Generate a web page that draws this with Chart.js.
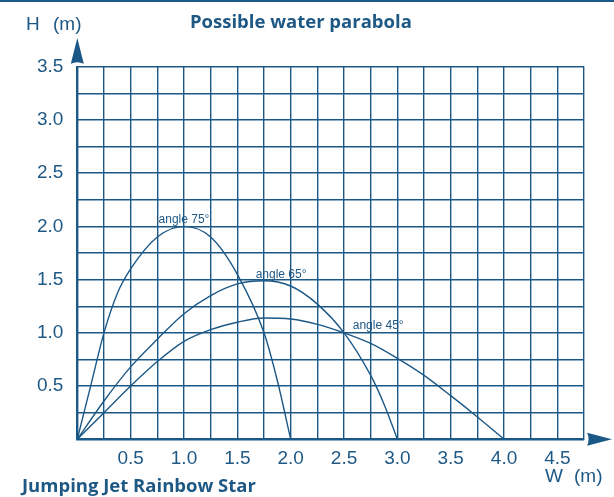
<!DOCTYPE html>
<html>
<head>
<meta charset="utf-8">
<script src="https://cdn.jsdelivr.net/npm/chart.js@4/dist/chart.umd.min.js"></script>
<style>
  html, body { margin: 0; padding: 0; background: #fff; }
  #wrap { width: 614px; height: 497px; position: relative; }
</style>
</head>
<body>
<div id="wrap"><canvas id="c" width="614" height="497"></canvas></div>
<script>
// curves (W in m, H in m)
var w75 = [0, 0.125, 0.25, 0.375, 0.5, 0.75, 1.0, 1.25, 1.5, 1.75, 1.875, 2.0];
var h75 = [0, 0.5, 1.0, 1.37, 1.6, 1.9, 2.0, 1.9, 1.55, 1.0, 0.55, 0];
var w65 = [0, 0.25, 0.5, 0.75, 1.0, 1.25, 1.5, 1.75, 2.0, 2.25, 2.5, 2.75, 2.875, 3.0];
var h65 = [0, 0.36, 0.68, 0.94, 1.18, 1.35, 1.46, 1.49, 1.44, 1.27, 1.0, 0.6, 0.33, 0];
var w45 = [0, 0.25, 0.5, 0.75, 1.0, 1.25, 1.5, 1.75, 2.0, 2.25, 2.5, 2.75, 3.0, 3.25, 3.5, 3.75, 4.0];
var h45 = [0, 0.25, 0.5, 0.73, 0.92, 1.03, 1.1, 1.14, 1.13, 1.08, 1.0, 0.9, 0.76, 0.6, 0.41, 0.21, 0];

// curve labels and where they sit
var angleLabels = ["angle 75°", "angle 65°", "angle 45°"];
var angleLabelW = [1.0, 1.91, 2.82];
var angleLabelH = [2.065, 1.55, 1.065];

// axes
var wMax = 4.75;
var hMax = 3.5;
var gridStep = 0.25;

var blue = "rgb(28,88,134)";
var textBlue = "rgb(30,88,132)";

function pts(xs, ys) {
  return xs.map(function (x, i) { return { x: x, y: ys[i] }; });
}

function lineSet(xs, ys) {
  return {
    data: pts(xs, ys),
    showLine: true,
    borderColor: blue,
    borderWidth: 1.4,
    pointRadius: 0,
    cubicInterpolationMode: "monotone",
    fill: false
  };
}

var extras = {
  id: "extras",
  afterDraw: function (chart) {
    var ctx = chart.ctx;
    var xs = chart.scales.x, ys = chart.scales.y;
    var a = chart.chartArea;
    ctx.save();

    // rule along the top edge
    ctx.fillStyle = blue;
    ctx.fillRect(0, 0, 614, 2);

    // arrow heads
    ctx.beginPath();
    ctx.moveTo(a.left, 38);
    ctx.lineTo(a.left + 6.5, a.top - 3);
    ctx.quadraticCurveTo(a.left, a.top - 6, a.left - 6.5, a.top - 3);
    ctx.closePath();
    ctx.fill();
    ctx.beginPath();
    ctx.moveTo(612, a.bottom);
    ctx.lineTo(a.right + 3, a.bottom - 6.5);
    ctx.quadraticCurveTo(a.right + 6, a.bottom, a.right + 3, a.bottom + 6.5);
    ctx.closePath();
    ctx.fill();

    // curve labels
    ctx.fillStyle = textBlue;
    ctx.font = "12px 'Liberation Sans', Arial, sans-serif";
    ctx.textAlign = "center";
    ctx.textBaseline = "middle";
    angleLabels.forEach(function (t, i) {
      ctx.fillText(t, xs.getPixelForValue(angleLabelW[i]), ys.getPixelForValue(angleLabelH[i]));
    });

    // axis names
    ctx.font = "19px 'Liberation Sans', Arial, sans-serif";
    ctx.textAlign = "left";
    ctx.fillText("H", 26, 25);
    ctx.fillText("(m)", 53, 25);
    ctx.fillText("W", 545, 477);
    ctx.fillText("(m)", 574, 477);

    // titles
    ctx.font = "bold 18.5px 'Open Sans', sans-serif";
    ctx.fillText("Possible water parabola", 190, 23);
    ctx.fillText("Jumping Jet Rainbow Star", 22, 487);
    ctx.restore();
  }
};

var tickFont = { family: "'Liberation Sans', Arial, sans-serif", size: 19 };

function halfLabel(v) {
  return (v > 0 && Math.abs(v * 2 - Math.round(v * 2)) < 1e-6) ? v.toFixed(1) : "";
}

new Chart(document.getElementById("c"), {
  type: "scatter",
  data: {
    datasets: [lineSet(w75, h75), lineSet(w65, h65), lineSet(w45, h45)]
  },
  options: {
    responsive: false,
    animation: false,
    layout: { padding: { left: 17.3, top: 66.7, right: 29.9, bottom: 17.7 } },
    plugins: { legend: { display: false }, tooltip: { enabled: false } },
    scales: {
      x: {
        type: "linear",
        min: 0,
        max: wMax,
        afterFit: function (s) { s.height = 40; },
        border: { color: blue, width: 2 },
        grid: { color: blue, lineWidth: 1.4, drawTicks: false },
        ticks: {
          stepSize: gridStep,
          autoSkip: false,
          maxRotation: 0,
          padding: 8,
          color: textBlue,
          font: tickFont,
          callback: halfLabel
        }
      },
      y: {
        type: "linear",
        min: 0,
        max: hMax,
        afterFit: function (s) { s.width = 60; },
        border: { color: blue, width: 2 },
        grid: { color: blue, lineWidth: 1.4, drawTicks: false },
        ticks: {
          stepSize: gridStep,
          autoSkip: false,
          padding: 14,
          color: textBlue,
          font: tickFont,
          callback: halfLabel
        }
      }
    }
  },
  plugins: [extras]
});
</script>
</body>
</html>
